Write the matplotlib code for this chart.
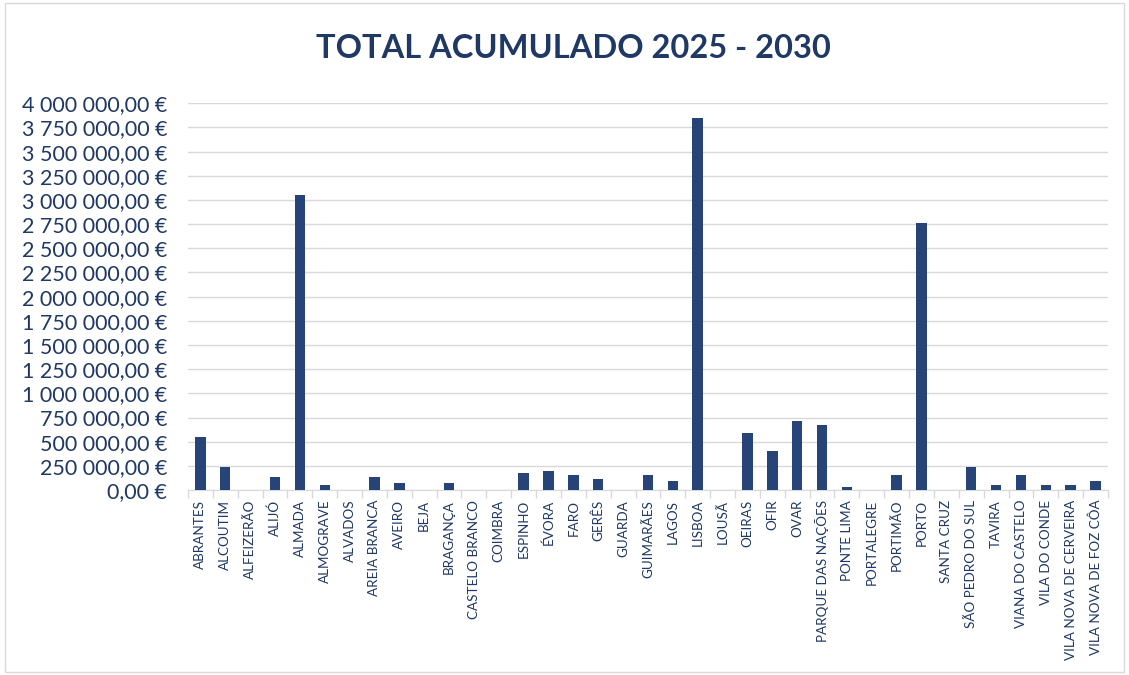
import matplotlib.pyplot as plt
from matplotlib.ticker import FuncFormatter, FixedLocator
from matplotlib.patches import Rectangle
import numpy as np

locais = ["ABRANTES", "ALCOUTIM", "ALFEIZERÃO", "ALIJÓ", "ALMADA", "ALMOGRAVE", "ALVADOS",
          "AREIA BRANCA", "AVEIRO", "BEJA", "BRAGANÇA", "CASTELO BRANCO", "COIMBRA",
          "ESPINHO", "ÉVORA", "FARO", "GERÊS", "GUARDA", "GUIMARÃES", "LAGOS", "LISBOA",
          "LOUSÃ", "OEIRAS", "OFIR", "OVAR", "PARQUE DAS NAÇÕES", "PONTE LIMA", "PORTALEGRE",
          "PORTIMÃO", "PORTO", "SANTA CRUZ", "SÃO PEDRO DO SUL", "TAVIRA", "VIANA DO CASTELO",
          "VILA DO CONDE", "VILA NOVA DE CERVEIRA", "VILA NOVA DE FOZ CÔA"]
totais = [551000, 241000, 0, 138000, 3050000, 52000, 0,
          138000, 75000, 0, 75000, 0, 0,
          179000, 200000, 155000, 114000, 0, 155000, 96000, 3850000,
          0, 592000, 406000, 716000, 675000, 28000, 0,
          155000, 2760000, 0, 241000, 52000, 155000,
          52000, 52000, 96000]

azul = "#264478"
texto = "#1F3864"

plt.rcParams['font.family'] = ['Lato', 'DejaVu Sans']

fig = plt.figure(figsize=(11.29, 6.75), dpi=100)
ax = fig.add_axes([0.1665, 0.274, 0.8149, 0.573])

x = np.arange(len(locais))
ax.bar(x, totais, width=0.42, color=azul, zorder=3)

ax.set_ylim(0, 4000000)
ax.set_xlim(-0.5, len(locais) - 0.5)
ax.set_yticks(np.arange(0, 4000001, 250000))


def euro(v, pos):
    s = f"{v:,.2f}".replace(",", " ").replace(".", ",")
    return s + " €"


ax.yaxis.set_major_formatter(FuncFormatter(euro))
ax.grid(axis='y', color="#D9D9D9", linewidth=1, zorder=0)
for s in ['top', 'right', 'left']:
    ax.spines[s].set_visible(False)
ax.spines['bottom'].set_color("#D9D9D9")

ax.tick_params(axis='y', length=0, labelsize=15.5, labelcolor=texto, pad=15)
ax.set_xticks(x)
ax.set_xticklabels(locais, rotation=90, fontsize=9.7, color=texto)
ax.tick_params(axis='x', which='major', length=0, pad=7)
ax.xaxis.set_minor_locator(FixedLocator(np.arange(-0.5, len(locais), 1)))
ax.tick_params(axis='x', which='minor', length=6, color="#D9D9D9", width=1)

fig.text(0.508, 1 - 48 / 675, "TOTAL ACUMULADO 2025 - 2030", ha='center', va='center',
         fontsize=23.5, fontweight='bold', color=texto)

fig.patches.append(Rectangle((0.004, 0.004), 0.992, 0.992, transform=fig.transFigure,
                             fill=False, edgecolor="#D9D9D9", linewidth=1))

fig.savefig("out.png", dpi=100)
